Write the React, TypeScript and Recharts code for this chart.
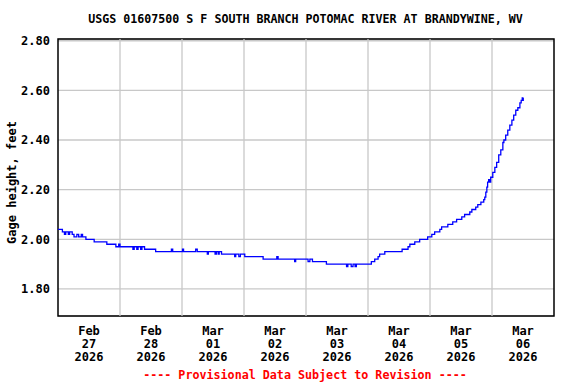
import React from "react";
import {
  ComposedChart,
  Line,
  XAxis,
  YAxis,
  CartesianGrid,
  ReferenceLine,
  ReferenceArea,
} from "recharts";

const title = "USGS 01607500 S F SOUTH BRANCH POTOMAC RIVER AT BRANDYWINE, WV";
const footer = "---- Provisional Data Subject to Revision ----";
const yLabel = "Gage height, feet";

// hours since Feb 27 2026 00:00
const hours = [
  0, 1.7, 2.5, 3, 4, 4.5, 5.5, 6.2, 7.3, 8, 9, 9.5, 10.8, 14, 18.9, 22.4, 23.5, 24,
  29, 29.5, 30.5, 31, 32, 32.5, 33.5, 37.8, 43.9, 44.4, 48.2, 48.6, 53.3, 53.9,
  57.8, 58.2, 60.8, 61.3, 62, 62.4, 63.3, 68.4, 68.8, 70, 70.6, 72.3, 79.4, 84.7,
  85.2, 91.6, 92, 96.8, 97.5, 98.5, 103.9, 111.7, 112.2, 113.5, 114.2, 115, 115.5,
  121.3, 122.6, 123.9, 124.5, 126.5, 133.2, 135.5, 136.2, 138.1, 140, 143.1, 144.7,
  145.8, 147.8, 148.5, 150.9, 152.8, 154.3, 156.3, 157.4, 159.4, 160.2, 161.7,
  162.5, 163.7, 164.8, 165.2, 165.6, 166.0, 166.3, 166.7, 167.1, 167.5, 168.3,
  169.1, 169.8, 170.6, 171.4, 172.2, 172.6, 173.3, 174.1, 174.9, 175.7, 176.4,
  177.2, 178.0, 178.8, 179.3, 179.7, 179.9, 180.1,
];
const gage = [
  2.04, 2.03, 2.02, 2.03, 2.02, 2.03, 2.02, 2.01, 2.02, 2.01, 2.02, 2.01, 2.0, 1.99, 1.98, 1.97, 1.98, 1.97,
  1.96, 1.97, 1.96, 1.97, 1.96, 1.97, 1.96, 1.95, 1.96, 1.95, 1.96, 1.95, 1.96, 1.95,
  1.94, 1.95, 1.94, 1.95, 1.94, 1.95, 1.94, 1.93, 1.94, 1.93, 1.94, 1.93, 1.92, 1.93,
  1.92, 1.91, 1.92, 1.91, 1.92, 1.91, 1.9, 1.89, 1.9, 1.89, 1.9, 1.89, 1.9,
  1.91, 1.92, 1.93, 1.94, 1.95, 1.96, 1.97, 1.98, 1.99, 2.0, 2.01, 2.02,
  2.03, 2.04, 2.05, 2.06, 2.07, 2.08, 2.09, 2.1, 2.11, 2.12, 2.13,
  2.14, 2.15, 2.16, 2.17, 2.19, 2.21, 2.23, 2.24, 2.23, 2.25, 2.27,
  2.29, 2.31, 2.34, 2.36, 2.39, 2.4, 2.42, 2.44, 2.46, 2.48, 2.5,
  2.52, 2.53, 2.55, 2.56, 2.57, 2.56, 2.57,
];

const tickHours = [12, 36, 60, 84, 108, 132, 156, 180];
const tickMonths = ["Feb", "Feb", "Mar", "Mar", "Mar", "Mar", "Mar", "Mar"];
const tickDays = ["27", "28", "01", "02", "03", "04", "05", "06"];
const tickYears = ["2026", "2026", "2026", "2026", "2026", "2026", "2026", "2026"];
const gridHours = [24, 48, 72, 96, 120, 144, 168];
const yTicks = [1.8, 2.0, 2.2, 2.4, 2.6, 2.8];
const xDomain = [0, 192];
const yDomain = [1.691, 2.807];

const data = hours.map((h, i) => ({ h, v: gage[i] }));

const FONT = "'DejaVu Sans Mono', 'Liberation Mono', monospace";

const XTick = (props: any) => {
  const { x, y, payload } = props;
  const i = tickHours.indexOf(payload.value);
  const lines = [tickMonths[i], tickDays[i], tickYears[i]];
  return (
    <text
      x={x}
      y={y}
      textAnchor="middle"
      fontFamily={FONT}
      fontWeight="bold"
      fontSize={12}
      fill="#000"
    >
      {lines.map((l, k) => (
        <tspan key={k} x={x} dy={k === 0 ? 10.5 : 13}>
          {l}
        </tspan>
      ))}
    </text>
  );
};

const YTick = (props: any) => {
  const { x, y, payload } = props;
  return (
    <text
      x={x}
      y={y}
      dy={4.3}
      textAnchor="end"
      fontFamily={FONT}
      fontWeight="bold"
      fontSize={12}
      fill="#000"
    >
      {payload.value.toFixed(2)}
    </text>
  );
};

const YLabel = (props: any) => {
  const vb = props.viewBox || { x: 0, y: 39, width: 58, height: 277 };
  const cx = vb.x + 16;
  const cy = vb.y + vb.height / 2 + 5;
  return (
    <text
      x={cx}
      y={cy}
      transform={`rotate(-90 ${cx} ${cy})`}
      textAnchor="middle"
      fontFamily={FONT}
      fontWeight="bold"
      fontSize={12}
      fill="#000"
    >
      {yLabel}
    </text>
  );
};

export default function App() {
  return (
    <div style={{ position: "relative", width: 576, height: 384, background: "#fff" }}>
      <style>{`body{margin:0;}`}</style>
      <div
        style={{
          position: "absolute",
          left: 0,
          width: 611,
          top: 11,
          textAlign: "center",
          fontFamily: FONT,
          fontWeight: "bold",
          fontSize: 11.65,
          lineHeight: "16px",
          color: "#000",
          whiteSpace: "pre",
        }}
      >
        {title}
      </div>
      <ComposedChart
        width={576}
        height={384}
        data={data}
        margin={{ top: 39, right: 22, bottom: 0, left: 0 }}
      >
        <CartesianGrid
          vertical={false}
          stroke="#c8c8c8"
          strokeWidth={1.3}
        />
        {gridHours.map((g) => (
          <ReferenceLine key={g} x={g} stroke="#c8c8c8" strokeWidth={1.3} />
        ))}
        <XAxis
          dataKey="h"
          type="number"
          domain={xDomain}
          ticks={tickHours}
          tick={<XTick />}
          tickLine={false}
          axisLine={false}
          height={68}
          allowDataOverflow
          interval={0}
        />
        <YAxis
          type="number"
          domain={yDomain}
          ticks={yTicks}
          tick={<YTick />}
          tickLine={false}
          axisLine={false}
          width={58}
          allowDataOverflow
          interval={0}
          label={<YLabel />}
        />
        <Line
          type="stepAfter"
          dataKey="v"
          stroke="#0000ff"
          strokeWidth={1.3}
          dot={false}
          isAnimationActive={false}
        />
        <ReferenceArea
          x1={xDomain[0]}
          x2={xDomain[1]}
          y1={yDomain[0]}
          y2={yDomain[1]}
          fill="none"
          stroke="#000"
          strokeWidth={1.5}
          ifOverflow="visible"
        />
      </ComposedChart>
      <div
        style={{
          position: "absolute",
          left: 0,
          width: 610,
          top: 367,
          textAlign: "center",
          fontFamily: FONT,
          fontWeight: "bold",
          fontSize: 11.7,
          lineHeight: "16px",
          color: "#ff0000",
          whiteSpace: "pre",
        }}
      >
        {footer}
      </div>
    </div>
  );
}
